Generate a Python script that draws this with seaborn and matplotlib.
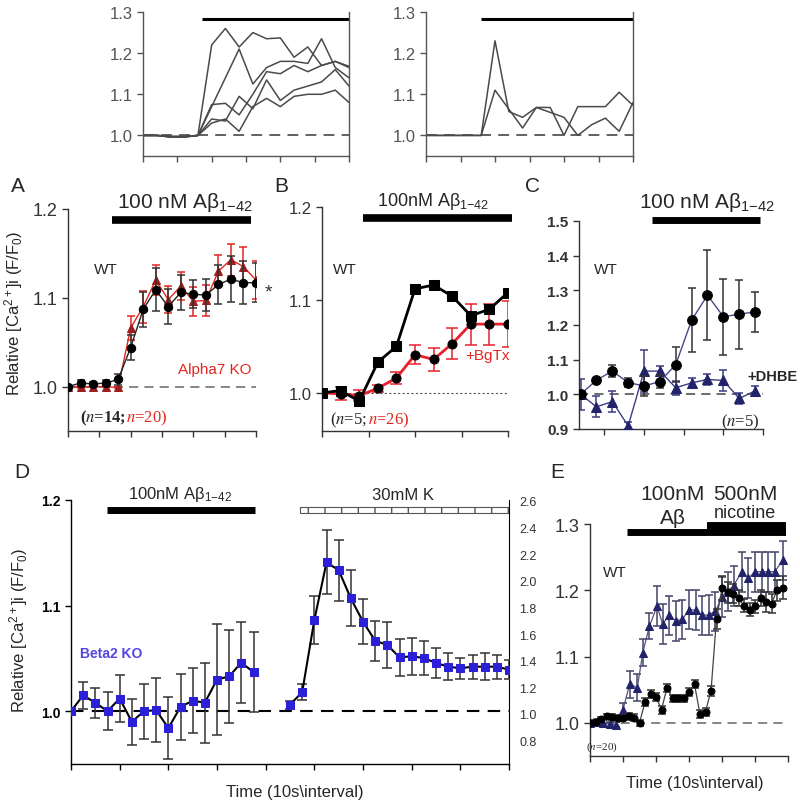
import numpy as np
import matplotlib
matplotlib.use("Agg")
from matplotlib import pyplot as plt
import seaborn as sns

# ---- data ----
t16 = np.arange(16)
top1_traces = [
    [1, 1, 0.998, 0.998, 1.0, 1.22, 1.26, 1.215, 1.25, 1.235, 1.237, 1.19, 1.215, 1.17, 1.18, 1.165],
    [1, 1, 0.997, 0.997, 1.0, 1.07, 1.14, 1.21, 1.125, 1.165, 1.18, 1.18, 1.175, 1.235, 1.165, 1.14],
    [1, 1, 0.996, 0.996, 1.0, 1.075, 1.078, 1.05, 1.1, 1.155, 1.15, 1.17, 1.155, 1.17, 1.18, 1.168],
    [1, 1, 0.996, 0.996, 1.0, 1.04, 1.035, 1.095, 1.065, 1.135, 1.085, 1.11, 1.12, 1.13, 1.16, 1.12],
    [1, 1, 0.997, 0.997, 1.0, 1.03, 1.04, 1.01, 1.07, 1.09, 1.07, 1.095, 1.10, 1.10, 1.11, 1.08],
]
top2_traces = [
    [1, 1, 1, 1, 1.0, 1.23, 1.058, 1.044, 1.068, 1.056, 1.044, 1.0, 1.026, 1.042, 1.01, 1.08],
    [1, 1, 1, 1, 1.0, 1.11, 1.064, 1.018, 1.068, 1.068, 1.0, 1.07, 1.07, 1.07, 1.105, 1.073],
]

a_wt = [1.0, 1.004, 1.003, 1.004, 1.008, 1.044, 1.087, 1.109, 1.09, 1.106, 1.104, 1.103, 1.115, 1.121, 1.117, 1.117]
a_wt_err = [0.002, 0.003, 0.002, 0.003, 0.006, 0.014, 0.02, 0.024, 0.02, 0.02, 0.016, 0.018, 0.022, 0.026, 0.024, 0.022]
a_ko = [1.0, 0.999, 1.0, 1.0, 0.999, 1.066, 1.09, 1.12, 1.098, 1.113, 1.096, 1.097, 1.13, 1.143, 1.135, 1.12]
a_ko_err = [0.001, 0.001, 0.001, 0.001, 0.001, 0.014, 0.018, 0.017, 0.015, 0.016, 0.016, 0.017, 0.018, 0.018, 0.022, 0.021]

t11 = np.arange(11)
b_wt = [1.0, 1.0025, 0.991, 1.033, 1.05, 1.112, 1.116, 1.104, 1.083, 1.09, 1.108]
b_bgtx = [1.0, 0.999, 0.997, 1.005, 1.016, 1.041, 1.036, 1.053, 1.074, 1.074, 1.074]
b_bgtx_err = [0.002, 0.007, 0.006, 0.004, 0.006, 0.01, 0.012, 0.017, 0.022, 0.022, 0.025]

t12 = np.arange(12)
c_wt = [1.0, 1.041, 1.067, 1.034, 1.024, 1.037, 1.086, 1.214, 1.286, 1.224, 1.231, 1.238]
c_wt_err = [0.01, 0.005, 0.018, 0.012, 0.03, 0.02, 0.05, 0.093, 0.13, 0.11, 0.1, 0.058]
c_dhbe = [1.0, 0.964, 0.979, 0.909, 1.067, 1.067, 1.019, 1.033, 1.043, 1.04, 0.988, 1.01]
c_dhbe_err = [0.045, 0.03, 0.03, 0.01, 0.06, 0.014, 0.02, 0.015, 0.015, 0.03, 0.015, 0.015]

d_ab_t = np.arange(16)
d_ab = [1.0, 1.015, 1.008, 1.0, 1.012, 0.99, 1.0, 1.001, 0.984, 1.004, 1.01, 1.008, 1.03, 1.033, 1.046, 1.037]
d_ab_err = [0.002, 0.013, 0.014, 0.018, 0.022, 0.022, 0.026, 0.03, 0.029, 0.031, 0.031, 0.038, 0.053, 0.044, 0.038, 0.038]
d_k_t = np.arange(18, 37)
d_k = [1.07, 1.163, 1.705, 2.138, 2.08, 1.868, 1.693, 1.55, 1.518, 1.425, 1.433, 1.42, 1.383, 1.355, 1.343, 1.355, 1.355, 1.355, 1.333]
d_k_err = [0.03, 0.06, 0.18, 0.24, 0.23, 0.21, 0.17, 0.15, 0.17, 0.14, 0.14, 0.13, 0.11, 0.1, 0.08, 0.09, 0.1, 0.09, 0.07]

e_wt_t = np.arange(36)
e_wt = [1.0, 1.002, 1.006, 1.01, 1.009, 1.008, 1.008, 1.01, 1.008, 1.0, 1.031, 1.043, 1.039, 1.02, 1.053, 1.037, 1.037, 1.037,
        1.047, 1.058, 1.013, 1.017, 1.048, 1.157, 1.203, 1.197, 1.195, 1.188, 1.177, 1.171, 1.176, 1.189, 1.182, 1.18, 1.2, 1.204]
e_wt_err = [0.003, 0.003, 0.003, 0.004, 0.004, 0.004, 0.004, 0.005, 0.005, 0.004, 0.006, 0.006, 0.006, 0.006, 0.006, 0.005, 0.005, 0.005,
            0.006, 0.006, 0.006, 0.006, 0.008, 0.015, 0.018, 0.016, 0.014, 0.012, 0.01, 0.01, 0.01, 0.012, 0.015, 0.015, 0.016, 0.017]
e_nic_t = [0, 1.2, 2.4, 3.6, 4.8, 6.0, 7.2, 8.6, 9.6, 10.8, 12.2, 13.2, 14.4, 15.6, 16.8, 18.0, 19.2, 20.4, 21.6, 22.8,
           24.0, 25.0, 26.1, 27.6, 28.8, 30.0, 31.2, 32.4, 33.6, 35.0]
e_nic = [1.0, 1.002, 1.0, 0.998, 0.997, 1.02, 1.058, 1.053, 1.106, 1.146, 1.176, 1.149, 1.162, 1.154, 1.156, 1.171, 1.17, 1.162,
         1.163, 1.168, 1.19, 1.198, 1.207, 1.228, 1.218, 1.228, 1.228, 1.228, 1.228, 1.245]
e_nic_err = [0.004, 0.004, 0.004, 0.004, 0.004, 0.01, 0.02, 0.02, 0.02, 0.02] + [0.03] * 20

# ---- style ----
sns.set_style("ticks")
plt.rcParams['font.family'] = ['Liberation Sans', 'DejaVu Sans']
plt.rcParams['mathtext.fontset'] = 'custom'
plt.rcParams['mathtext.rm'] = 'Liberation Sans'
plt.rcParams['mathtext.it'] = 'Liberation Sans:italic'
plt.rcParams['mathtext.bf'] = 'Liberation Sans:bold'

W, H = 800, 803
fig = plt.figure(figsize=(W / 100, H / 100), dpi=100)

AB = "Aβ" + r"$_{1\mathrm{-}42}$"
RED = "#e3261f"
NAVY = "#23236b"
BLUE = "#2b20d8"
SERIF = dict(family="Liberation Serif", math_fontfamily="stix")


def add_ax(x0, x1, ytop, ybot):
    return fig.add_axes([x0 / W, 1 - ybot / H, (x1 - x0) / W, (ybot - ytop) / H])


def ftext(x, y, s, **kw):
    kw.setdefault("ha", "center")
    kw.setdefault("va", "center")
    return fig.text(x / W, 1 - y / H, s, **kw)


def after(first, s, **kw):
    # put text s right behind an existing text
    fig.get_axes()[0].annotate(s, xy=(1, 0), xycoords=first, ha="left", va="bottom",
                               annotation_clip=False, **kw)


def style(ax, right=False, color="#333333", size=12):
    sns.despine(ax=ax, right=not right, top=True)
    for sp in ax.spines.values():
        sp.set_color(color)
        sp.set_linewidth(1.0)
    ax.tick_params(colors=color, labelsize=size, length=4, width=1)
    ax.set_xticklabels([])
    ax.set_xlabel("")
    ax.set_ylabel("")
    ax.set_facecolor("none")


def series(ax, t, y, err, color, marker, ms, lw, mfc, ecolor, cap=3, z=3):
    sns.lineplot(x=t, y=y, ax=ax, color=color, lw=lw, marker=marker, markersize=ms,
                 markerfacecolor=mfc, markeredgecolor=mfc, estimator=None, sort=False,
                 legend=False, zorder=z)
    if err is not None:
        ax.errorbar(t, y, yerr=err, fmt="none", ecolor=ecolor, elinewidth=1.1,
                    capsize=cap, capthick=1.1, zorder=z - 1)


# ---- top traces ----
for (x0, x1), traces in zip([(143, 349), (426, 633)], [top1_traces, top2_traces]):
    ax = add_ax(x0, x1, 13, 157)
    ax.axhline(1.0, color="#555555", ls=(0, (6, 4)), lw=1.3, zorder=1)
    for tr in traces:
        sns.lineplot(x=t16, y=tr, ax=ax, color="#4a4a4a", lw=1.1, estimator=None, legend=False)
    ax.set_xlim(0, 15)
    ax.set_ylim(0.95, 1.3)
    ax.set_yticks([1.0, 1.1, 1.2, 1.3])
    ax.set_yticklabels(["1.0", "1.1", "1.2", "1.3"])
    ax.set_xticks([0, 2.5, 5, 7.5, 10, 12.5, 15])
    style(ax, right=True, color="#555555", size=12)
    ax.tick_params(axis="y", right=False)
    ax.plot([4.3 if x0 == 143 else 4.0, 15], [1.283, 1.283], color="black", lw=2.2, solid_capstyle="butt")

# ---- panel A ----
ax = add_ax(68, 256, 210, 432)
ax.axhline(1.0, xmin=0, xmax=1, color="#666666", ls=(0, (6, 4)), lw=1.1, zorder=1)
series(ax, t16, a_ko, a_ko_err, RED, "^", 6, 1.0, "#a01d1d", RED)
series(ax, t16, a_wt, a_wt_err, "#222222", "o", 6, 1.0, "black", "#333333", z=4)
ax.set_xlim(0, 15)
ax.set_ylim(0.95, 1.2)
ax.set_yticks([1.0, 1.1, 1.2])
ax.set_yticklabels(["1.0", "1.1", "1.2"])
ax.set_xticks([0, 2.5, 5, 7.5, 10, 12.5, 15])
style(ax, size=13)
ax.plot([3.5, 14.6], [1.1876, 1.1876], color="black", lw=5.5, solid_capstyle="butt", clip_on=False)
ftext(18, 186, "A", fontsize=15)
ftext(185, 202, "100 nM " + AB, fontsize=15)
ftext(106, 270, "WT", fontsize=11)
ftext(215, 370, "Alpha7 KO", fontsize=11, color=RED)
ftext(268, 293, "*", fontsize=14, color="#333333")
t1 = ftext(80, 418, r"($n$=14;", fontsize=12, ha="left", fontweight="bold", **SERIF)
after(t1, r"$n$=20)", fontsize=12, color=RED, **SERIF)
ftext(14, 313, r"Relative [Ca$^{2+}$]i (F/F$_0$)", fontsize=12, rotation=90)

# ---- panel B ----
ax = add_ax(322, 508, 208, 432)
ax.axhline(1.0, color="#555555", ls=(0, (2, 2)), lw=0.8, zorder=1)
series(ax, t11, b_bgtx, b_bgtx_err, "#e8202a", "o", 6.5, 2.0, "black", "#e8202a", cap=4)
series(ax, t11, b_wt, None, "black", "s", 6.5, 2.0, "black", "black", z=4)
ax.set_xlim(0, 10)
ax.set_ylim(0.959, 1.2)
ax.set_yticks([1.0, 1.1, 1.2])
ax.set_yticklabels(["1.0", "1.1", "1.2"])
ax.set_xticks([0, 2.5, 5, 7.5, 10])
style(ax, size=12)
ax.plot([2.2, 10.2], [1.188, 1.188], color="black", lw=5.5, solid_capstyle="butt", clip_on=False)
ftext(281, 186, "B", fontsize=15)
ftext(433, 202, "100nM " + AB, fontsize=13)
ftext(345, 270, "WT", fontsize=11)
ftext(487, 356, "+BgTx", fontsize=11, color=RED)
t2 = ftext(330, 420, r"($n$=5; ", fontsize=12, ha="left", **SERIF)
after(t2, r"$n$=26)", fontsize=12, color=RED, **SERIF)

# ---- panel C ----
ax = add_ax(579, 763, 222, 430)
ax.axhline(1.0, color="#444444", ls=(0, (6, 4)), lw=1.1, zorder=1)
series(ax, t12, c_dhbe, c_dhbe_err, "#3c3c85", "^", 6.5, 1.0, NAVY, "#3c3c85")
series(ax, t12, c_wt, c_wt_err, "#4a4a8a", "o", 7, 1.0, "black", "#333333", z=4)
ax.set_xlim(-0.1, 11.5)
ax.set_ylim(0.9, 1.5)
ax.set_yticks([0.9, 1.0, 1.1, 1.2, 1.3, 1.4, 1.5])
ax.set_yticklabels(["0.9", "1.0", "1.1", "1.2", "1.3", "1.4", "1.5"], fontweight="bold")
ax.set_xticks([1.5, 4, 6.5, 9, 11.5])
style(ax, size=11)
ax.plot([4.5, 11.3], [1.503, 1.503], color="black", lw=5, solid_capstyle="butt", clip_on=False)
ftext(533, 186, "C", fontsize=15)
ftext(707, 202, "100 nM " + AB, fontsize=15)
ftext(606, 270, "WT", fontsize=11)
ftext(772, 377, "+DHBE", fontsize=10.5, fontweight="bold")
ftext(740, 422, r"($n$=5)", fontsize=12, **SERIF)

# ---- panel D ----
ax = add_ax(71, 509, 501, 765)
ax.axhline(1.0, color="black", ls=(0, (6, 4)), lw=1.5, zorder=1)
series(ax, d_ab_t, d_ab, d_ab_err, "black", "s", 6, 1.5, BLUE, "#333333", cap=3.5, z=4)
ax.set_xlim(0, 36)
ax.set_ylim(0.95, 1.2)
ax.set_yticks([1.0, 1.1, 1.2])
ax.set_yticklabels(["1.0", "1.1", "1.2"], fontweight="bold")
ax.set_xticks(np.arange(0, 37, 4))
style(ax, size=10, color="black")
ax.plot([2.95, 15.1], [1.1905, 1.1905], color="black", lw=5, solid_capstyle="butt", clip_on=False)
ax.barh(1.1905, 17.1, left=18.8, height=0.0055, color="white", edgecolor="#555555",
        hatch="|", lw=0.8, clip_on=False)
axr = ax.twinx()
series(axr, d_k_t, d_k, d_k_err, "black", "s", 6, 1.5, BLUE, "#333333", cap=3.5, z=4)
axr.set_xlim(0, 36)
axr.set_ylim(0.624, 2.607)
axr.set_yticks([0.8, 1.0, 1.2, 1.4, 1.6, 1.8, 2.0, 2.2, 2.4, 2.6])
axr.set_yticklabels(["0.8", "1.0", "1.2", "1.4", "1.6", "1.8", "2.0", "2.2", "2.4", "2.6"])
sns.despine(ax=axr, left=True, top=True, right=False, bottom=True)
axr.spines["right"].set_color("black")
axr.tick_params(colors="#333333", labelsize=9, length=4)
axr.set_ylabel("")
ftext(22, 473, "D", fontsize=15)
ftext(180, 495, "100nM " + AB, fontsize=12)
ftext(403, 496, "30mM K", fontsize=12)
ftext(111, 654, "Beta2 KO", fontsize=10, fontweight="bold", color="#5446e0")
ftext(19, 630, r"Relative [Ca$^{2+}$]i (F/F$_0$)", fontsize=12, rotation=90)
ftext(295, 793, "Time (10s\\interval)", fontsize=12)

# ---- panel E ----
ax = add_ax(590, 788, 525, 757)
ax.axhline(1.0, color="#666666", ls=(0, (6, 4)), lw=1.1, zorder=1)
series(ax, e_nic_t, e_nic, e_nic_err, "#55557f", "^", 5.5, 0.9, NAVY, "#444466")
series(ax, e_wt_t, e_wt, e_wt_err, "#444444", "o", 5, 0.9, "black", "#333333", z=4)
ax.set_xlim(0, 36)
ax.set_ylim(0.95, 1.3)
ax.set_yticks([1.0, 1.1, 1.2, 1.3])
ax.set_yticklabels(["1.0", "1.1", "1.2", "1.3"])
ax.set_xticks(np.arange(0, 37, 6))
style(ax, size=13)
ax.plot([6.7, 21.3], [1.288, 1.288], color="black", lw=5, solid_capstyle="butt", clip_on=False)
ax.plot([21.3, 35.6], [1.293, 1.293], color="black", lw=10, solid_capstyle="butt", clip_on=False)
ftext(557, 473, "E", fontsize=15)
ftext(673, 495, "100nM", fontsize=15)
ftext(673, 518, "Aβ", fontsize=15)
ftext(745, 495, "500nM", fontsize=15)
ftext(745, 513, "nicotine", fontsize=13)
ftext(615, 573, "WT", fontsize=11)
ftext(602, 747, r"($n$=20)", fontsize=8, **SERIF)
ftext(695, 784, "Time (10s\\interval)", fontsize=12)

fig.savefig("out.png", dpi=100)
